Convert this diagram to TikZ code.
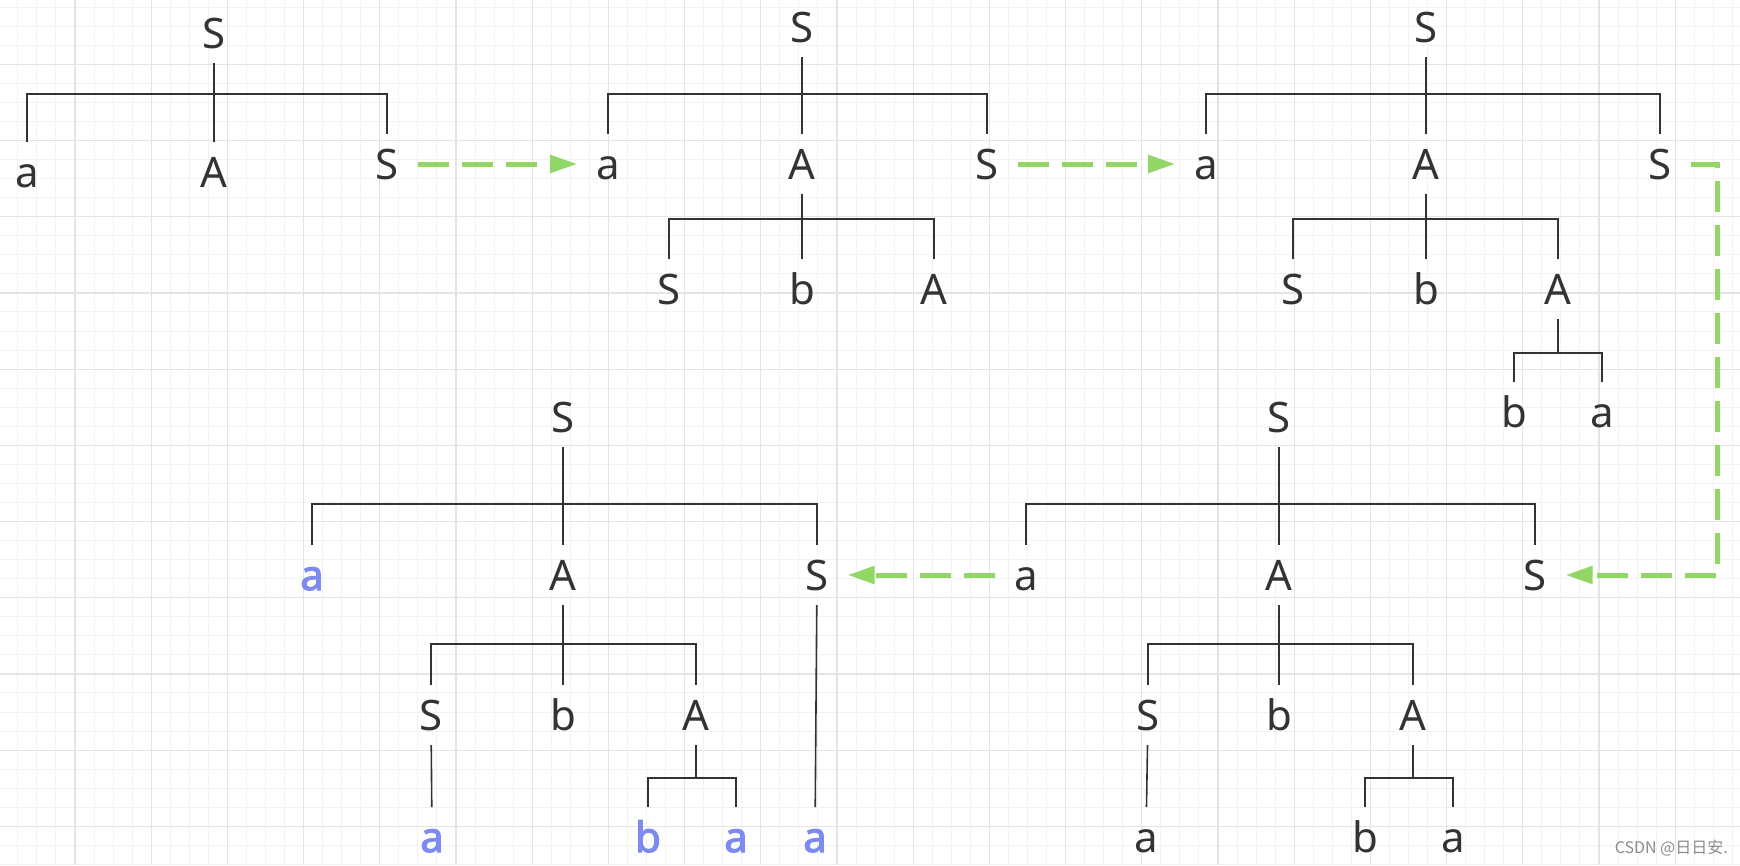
\documentclass[tikz,border=0pt]{standalone}
\usepackage{fontspec}
\setmainfont{Noto Sans}
\newfontfamily\hitfont{Noto Sans}[FakeBold=2.6]
\newfontfamily\cjkfont{Noto Sans CJK SC}
\usepackage{tikz}
\usetikzlibrary{arrows.meta}

\definecolor{inkgray}{RGB}{51,51,51}
\definecolor{hitblue}{RGB}{125,138,240}
\definecolor{flowgreen}{RGB}{146,215,102}
\definecolor{gridminor}{RGB}{242,242,242}
\definecolor{gridmajor}{RGB}{228,228,228}
\definecolor{markgray}{RGB}{140,140,140}

\begin{document}
\begin{tikzpicture}[x=1pt, y=-1pt,
  sym/.style={font=\fontsize{42}{50}\selectfont, text=inkgray, inner sep=0pt,
    outer xsep=19pt, outer ysep=15pt, text height=30pt, text depth=0pt},
  hit/.style={sym, text=hitblue, font=\hitfont\fontsize{42}{50}\selectfont},
  link/.style={draw=inkgray, line width=1.6pt},
  flow/.style={draw=flowgreen, line width=5pt, dash pattern=on 31pt off 13pt,
    -{Triangle[length=27pt,width=17pt]}}]
\fill[white] (0,0) rectangle (1740,865);
\useasboundingbox (0,0) rectangle (1740,865);

% Grid
\foreach \k in {0,...,91}
    \draw[gridminor, line width=1pt] ({-1.2+19.05*\k},0) -- ({-1.2+19.05*\k},865);
\foreach \k in {1,...,46}
    \draw[gridminor, line width=1pt] (0,{-11.9+19.05*\k}) -- (1740,{-11.9+19.05*\k});
\foreach \k in {0,...,22}
    \draw[gridmajor, line width=1.2pt] ({-1.2+76.2*\k},0) -- ({-1.2+76.2*\k},865);
\foreach \k in {1,...,11}
    \draw[gridmajor, line width=1.2pt] (0,{-11.9+76.2*\k}) -- (1740,{-11.9+76.2*\k});

% Step 1
\node[sym] (p1S) at (214,33) {S};
\node[sym] (p1a) at (27,172) {a};
\node[sym] (p1A) at (214,172) {A};
\node[sym] (p1S2) at (387,164) {S};
\coordinate (p1bar) at (214,94);
\draw[link] (p1S) -- (p1A);
\draw[link] (p1a.north) |- (p1bar) -| (p1S2.north);

% Step 2
\node[sym] (p2S) at (802,27) {S};
\node[sym] (p2a) at (608,164) {a};
\node[sym] (p2A) at (802,164) {A};
\node[sym] (p2S2) at (987,164) {S};
\node[sym] (p2S3) at (669,289) {S};
\node[sym] (p2b) at (802,289) {b};
\node[sym] (p2A2) at (934,289) {A};
\coordinate (p2bar) at (802,94);
\coordinate (p2bar2) at (802,219);
\draw[link] (p2S) -- (p2A);
\draw[link] (p2a.north) |- (p2bar) -| (p2S2.north);
\draw[link] (p2A) -- (p2b);
\draw[link] (p2S3.north) |- (p2bar2) -| (p2A2.north);

% Step 3
\node[sym] (p3S) at (1426,27) {S};
\node[sym] (p3a) at (1206,164) {a};
\node[sym] (p3A) at (1426,164) {A};
\node[sym] (p3S2) at (1660,164) {S};
\node[sym] (p3S3) at (1293,289) {S};
\node[sym] (p3b) at (1426,289) {b};
\node[sym] (p3A2) at (1558,289) {A};
\node[sym] (p3b2) at (1514,412) {b};
\node[sym] (p3a2) at (1602,412) {a};
\coordinate (p3bar) at (1426,94);
\coordinate (p3bar2) at (1426,219);
\coordinate (p3bar3) at (1558,353);
\draw[link] (p3S) -- (p3A);
\draw[link] (p3a.north) |- (p3bar) -| (p3S2.north);
\draw[link] (p3A) -- (p3b);
\draw[link] (p3S3.north) |- (p3bar2) -| (p3A2.north);
\draw[link] (p3A2) -- (p3bar3);
\draw[link] (p3b2.north) |- (p3bar3) -| (p3a2.north);

% Step 4
\node[sym] (p4S) at (1279,417) {S};
\node[sym] (p4a) at (1026,575) {a};
\node[sym] (p4A) at (1279,575) {A};
\node[sym] (p4S2) at (1535,575) {S};
\node[sym] (p4S3) at (1148,715) {S};
\node[sym] (p4b) at (1279,715) {b};
\node[sym] (p4A2) at (1413,715) {A};
\node[sym] (p4a2) at (1146,837) {a};
\node[sym] (p4b2) at (1365,837) {b};
\node[sym] (p4a3) at (1453,837) {a};
\coordinate (p4bar) at (1279,504);
\coordinate (p4bar2) at (1279,644);
\coordinate (p4bar3) at (1413,778);
\draw[link] (p4S) -- (p4A);
\draw[link] (p4a.north) |- (p4bar) -| (p4S2.north);
\draw[link] (p4A) -- (p4b);
\draw[link] (p4S3.north) |- (p4bar2) -| (p4A2.north);
\draw[link] (p4S3) -- (p4a2);
\draw[link] (p4A2) -- (p4bar3);
\draw[link] (p4b2.north) |- (p4bar3) -| (p4a3.north);

% Step 5 (terminals in blue)
\node[sym] (p5S) at (563,417) {S};
\node[hit] (p5a) at (312,575) {a};
\node[sym] (p5A) at (563,575) {A};
\node[sym] (p5S2) at (817,575) {S};
\node[sym] (p5S3) at (431,715) {S};
\node[sym] (p5b) at (563,715) {b};
\node[sym] (p5A2) at (696,715) {A};
\node[hit] (p5a2) at (432,837) {a};
\node[hit] (p5b2) at (648,837) {b};
\node[hit] (p5a3) at (736,837) {a};
\node[hit] (p5a4) at (815,837) {a};
\coordinate (p5bar) at (563,504);
\coordinate (p5bar2) at (563,644);
\coordinate (p5bar3) at (696,778);
\draw[link] (p5S) -- (p5A);
\draw[link] (p5a.north) |- (p5bar) -| (p5S2.north);
\draw[link] (p5A) -- (p5b);
\draw[link] (p5S3.north) |- (p5bar2) -| (p5A2.north);
\draw[link] (p5S3) -- (p5a2);
\draw[link] (p5A2) -- (p5bar3);
\draw[link] (p5b2.north) |- (p5bar3) -| (p5a3.north);
\draw[link] (p5S2) -- (p5a4);

% Steps
\draw[flow] (p1S2) -- (p2a);
\draw[flow] (p2S2) -- (p3a);
\draw[flow] (p3S2.east) -- ++(27,0) |- (p4S2.east);
\draw[flow] (p4a) -- (p5S2);

\node[anchor=east, text=markgray, inner sep=0pt, font=\cjkfont\fontsize{16}{18}\selectfont] (mark) at (1728,848) {CSDN @日日安.};
\end{tikzpicture}
\end{document}
